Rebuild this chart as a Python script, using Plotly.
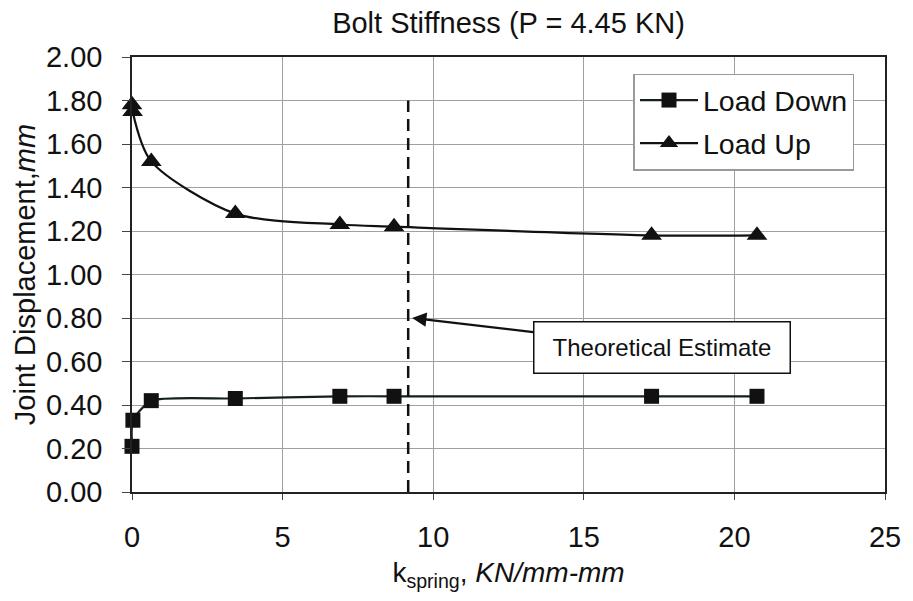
import plotly.graph_objects as go

# Data
down_x = [0.0, 0.03, 0.64, 3.43, 6.9, 8.7, 17.25, 20.75]
down_y = [0.21, 0.33, 0.42, 0.43, 0.44, 0.44, 0.44, 0.44]
up_x = [0.0, 0.02, 0.64, 3.43, 6.9, 8.7, 17.25, 20.75]
up_y = [1.78, 1.75, 1.52, 1.28, 1.23, 1.22, 1.18, 1.18]
theory_x = [9.17, 9.17]
theory_y = [0.0, 1.80]
x_ticks = [0, 5, 10, 15, 20, 25]
y_ticks = [0.0, 0.2, 0.4, 0.6, 0.8, 1.0, 1.2, 1.4, 1.6, 1.8, 2.0]

FONT = "Liberation Sans, Arial, sans-serif"

fig = go.Figure()
fig.add_trace(go.Scatter(
    x=down_x, y=down_y, name="Load Down", mode="lines+markers", legendgroup="a",
    cliponaxis=False,
    line=dict(color="#15201b", width=2.2, shape="spline", smoothing=0.6),
    marker=dict(symbol="square", size=15, color="#111111"),
))
fig.add_trace(go.Scatter(
    x=up_x, y=up_y, name="Load Up", mode="lines+markers", legendgroup="b",
    cliponaxis=False,
    line=dict(color="#111111", width=2.2, shape="spline", smoothing=0.8),
    marker=dict(symbol="triangle-up", size=18, color="#111111"),
))
fig.add_trace(go.Scatter(
    x=theory_x, y=theory_y, mode="lines", showlegend=False,
    line=dict(color="#111111", width=2.5, dash="12px,7px"),
))

fig.add_annotation(
    x=9.3, y=0.80, xref="x", yref="y",
    ax=17.58, ay=0.666, axref="x", ayref="y",
    text="Theoretical Estimate", showarrow=True,
    arrowhead=2, arrowsize=1.3, arrowwidth=2.2, arrowcolor="#111111",
    font=dict(family=FONT, size=24, color="#111111"),
    bgcolor="white", bordercolor="#111111", borderwidth=1.5,
    width=253, height=48, align="center",
)

fig.update_layout(
    width=905, height=593,
    margin=dict(l=124, r=26, t=49, b=109),
    paper_bgcolor="white", plot_bgcolor="white",
    font=dict(family=FONT, size=29, color="#111111"),
    title=dict(text="Bolt Stiffness (P = 4.45 KN)", x=0.5, xref="paper", xanchor="center",
               y=0.9755, yref="container", yanchor="middle", font=dict(size=29)),
    showlegend=True,
    legend=dict(x=0.666, y=0.962, xanchor="left", yanchor="top",
                bgcolor="white", bordercolor="#999999", borderwidth=1.5,
                font=dict(size=28.5), itemwidth=58, tracegroupgap=3),
    xaxis=dict(range=[0, 25], tickvals=x_ticks, ticktext=[str(v) for v in x_ticks],
               showgrid=True, gridcolor="#a0a0a0", gridwidth=1,
               showline=True, linecolor="#222222", linewidth=1.5, mirror=True,
               ticks="outside", ticklen=6, tickcolor="#444444", ticklabelstandoff=12,
               zeroline=False, tickfont=dict(size=29),
               title=dict(text="k<sub>spring</sub>, <i>KN/mm-mm</i>", standoff=11,
                          font=dict(size=28))),
    yaxis=dict(range=[0, 2.0], tickvals=y_ticks,
               ticktext=[f"{v:.2f}" for v in y_ticks],
               showgrid=True, gridcolor="#a0a0a0", gridwidth=1,
               showline=True, linecolor="#222222", linewidth=1.5, mirror=True,
               ticks="outside", ticklen=8, tickcolor="#444444", ticklabelstandoff=14,
               zeroline=False, tickfont=dict(size=29),
               title=dict(text="Joint Displacement,<i>mm</i>", standoff=2,
                          font=dict(size=29))),
)

fig.write_html("out.html")
